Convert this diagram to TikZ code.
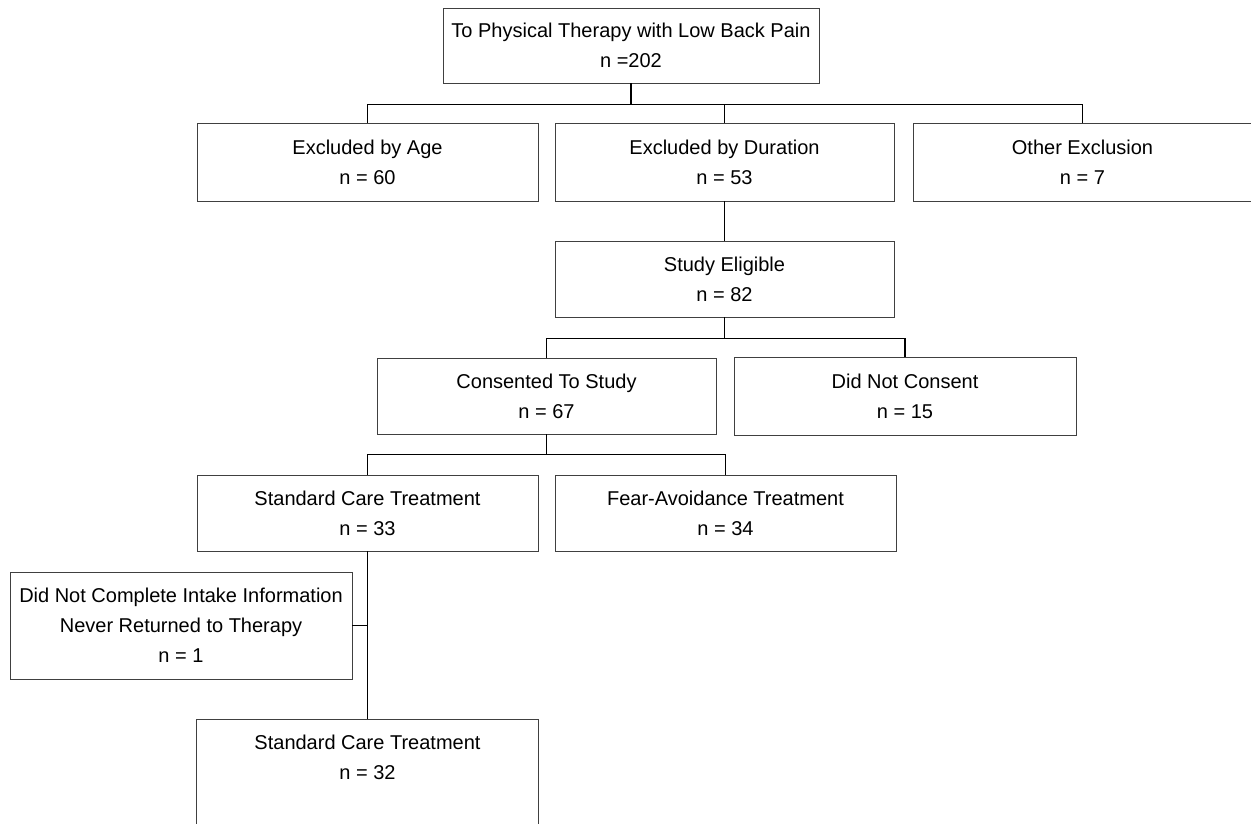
\documentclass[tikz,border=0pt]{standalone}
\usepackage{fontspec}
\setmainfont{Liberation Sans}
\begin{document}
\begin{tikzpicture}[x=1pt,y=-1pt,
  box/.style={draw=black!75, line width=0.7pt, inner sep=0pt, align=center,
              font=\fontsize{20}{30}\selectfont},
  link/.style={draw=black, line width=1.1pt}]
\useasboundingbox (0,0) rectangle (1251,823);
% boxes
\node[box, minimum width=376pt, minimum height=75pt] (top) at (631,45.5)
  {To Physical Therapy with Low Back Pain\\n =202};
\node[box, minimum width=341pt, minimum height=78pt] (age) at (367.5,162)
  {Excluded by Age\\n = 60};
\node[box, minimum width=339pt, minimum height=78pt] (dur) at (724.5,162)
  {Excluded by Duration\\n = 53};
\node[box, minimum width=339pt, minimum height=78pt] (other) at (1082.5,162)
  {Other Exclusion\\n = 7};
\node[box, minimum width=339pt, minimum height=76pt] (elig) at (724.5,279)
  {Study Eligible\\n = 82};
\node[box, minimum width=339pt, minimum height=76pt] (cons) at (546.5,396)
  {Consented To Study\\n = 67};
\node[box, minimum width=342pt, minimum height=78pt] (dnc) at (905,396)
  {Did Not Consent\\n = 15};
\node[box, minimum width=341pt, minimum height=76pt] (sct) at (367.5,513)
  {Standard Care Treatment\\n = 33};
\node[box, minimum width=341pt, minimum height=76pt] (fear) at (725.5,513)
  {Fear-Avoidance Treatment\\n = 34};
\node[box, minimum width=342pt, minimum height=107pt] (dnci) at (181,625.5)
  {Did Not Complete Intake Information\\Never Returned to Therapy\\n = 1};
\node[box, minimum width=342pt, anchor=north, inner ysep=16pt] (sct2) at (367.5,719)
  {Standard Care Treatment\\n = 32\\~\\~};
% connectors
\path (top.south) ++(0,21) coordinate (b1);
\draw[link] (top.south) -- (b1);
\draw[link] (age.north) |- (b1) -| (other.north);
\draw[link] (dur.north) -- (dur.north |- b1);
\draw[link] (dur.south) -- (elig.north);
\path (elig.south) ++(0,21) coordinate (b2);
\draw[link] (elig.south) -- (b2);
\draw[link] (cons.north) |- (b2) -| (dnc.north);
\path (cons.south) ++(0,20) coordinate (b3);
\draw[link] (cons.south) -- (b3);
\draw[link] (sct.north) |- (b3) -| (fear.north);
\draw[link] (sct.south) -- (sct2.north);
\draw[link] (dnci.east) -- (dnci.east -| sct.south);
\end{tikzpicture}
\end{document}
